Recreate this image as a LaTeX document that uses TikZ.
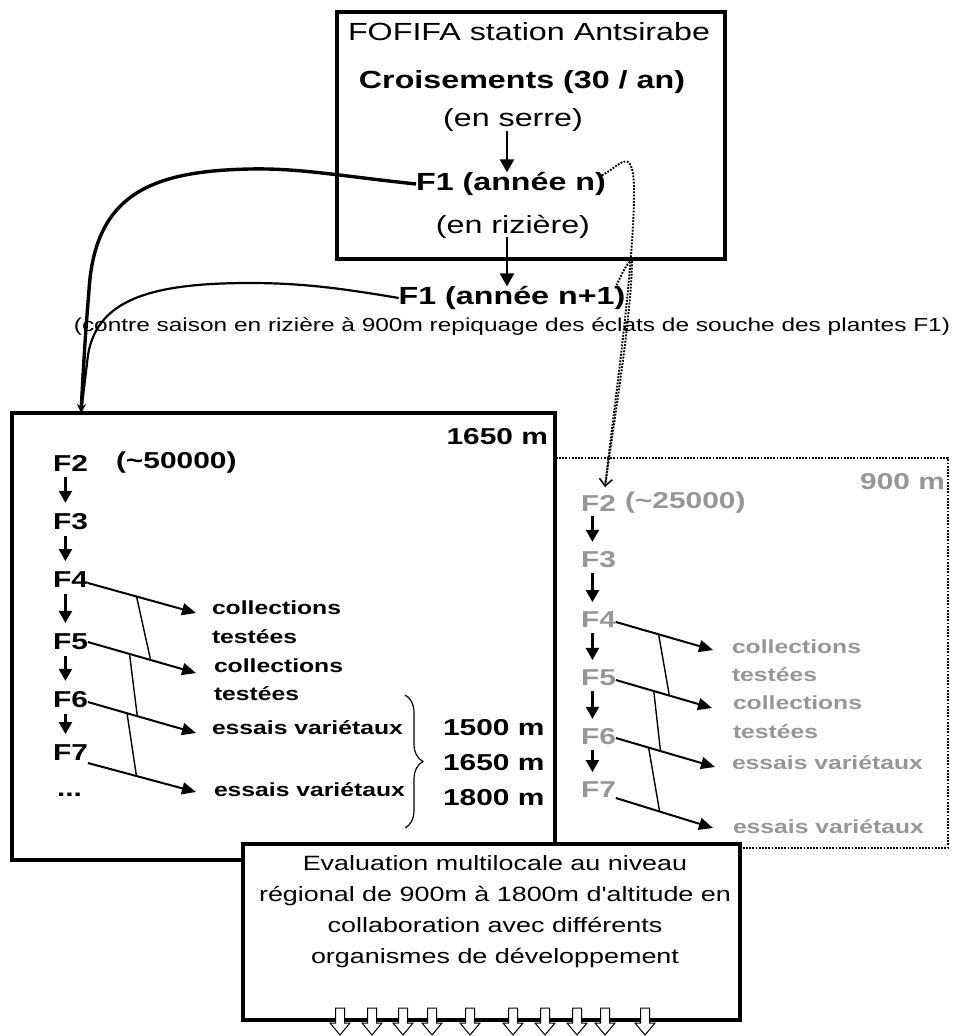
\documentclass[tikz,border=0pt]{standalone}
\usepackage{fontspec}
\setmainfont{Liberation Sans}
\usepackage{graphicx}
\usetikzlibrary{arrows.meta,decorations.pathreplacing}
\newcommand{\W}[1]{\scalebox{1.3}[1]{#1}}
\definecolor{gtxt}{RGB}{150,150,150}
\begin{document}
\begin{tikzpicture}[x=1pt,y=-1pt,
  every node/.style={inner sep=0pt, outer sep=0pt},
  txt/.style={font=\fontsize{24.8}{28}\selectfont},
  btxt/.style={font=\fontsize{24.8}{28}\selectfont\bfseries},
  smtxt/.style={font=\fontsize{18.8}{22}\selectfont},
  labtxt/.style={font=\fontsize{19}{22}\selectfont\bfseries, anchor=west},
  ftxt/.style={font=\fontsize{23}{27}\selectfont\bfseries, anchor=west},
  evtxt/.style={font=\fontsize{20.7}{31}\selectfont},
  gtx/.style={text=gtxt},
  bigarr/.style={line width=2.4pt, -{Triangle[length=13pt,width=14pt]}},
  farr/.style={line width=2.2pt, -{Triangle[length=12pt,width=13pt]}},
  darr/.style={line width=2pt, -{Triangle[length=14pt,width=12pt]}},
  zig/.style={line width=1.4pt},
  dotln/.style={line width=1.9pt, dash pattern=on 1.8pt off 1.4pt},
  boxst/.style={draw, line width=3.8pt, fill=white},
]
\useasboundingbox (0,0) rectangle (956,1036);

% dotted 900 m area (partly hidden)
\draw[dotln] (400,458) rectangle (948,848);

% boxes
\node[boxst, line width=4.2pt, fill=none, minimum width=388, minimum height=247] (top) at (531,135.5) {};
\node[boxst, minimum width=543, minimum height=447] (lbox) at (283.5,636.5) {};
\node[boxst, minimum width=497, minimum height=176] (evalb) at (491.5,932) {};

% top box texts
\node[txt] (fofifa) at (529,32) {\W{FOFIFA station Antsirabe}};
\node[btxt] (crois) at (522,82) {\W{Croisements (30 / an)}};
\node[txt] (serre) at (513,120) {\W{(en serre)}};
\node[btxt] (f1a) at (511,184) {\W{F1 (année n)}};
\node[txt] (rizi) at (513,227) {\W{(en rizière)}};
\node[btxt] (f1b) at (512,298) {\W{F1 (année n+1)}};
\node[smtxt] (contre) at (512,327) {\W{(contre saison en rizière à 900m repiquage des éclats de souche des plantes F1)}};

\draw[bigarr] ([xshift=-6pt,yshift=1pt]serre.south) -- ([xshift=-4pt]f1a.north);
\draw[bigarr] ([xshift=-6pt,yshift=2pt]rizi.south) -- ([xshift=-5pt]f1b.north);

% curves to the 1650 m box
\coordinate (entry) at (81,413);
\draw[line width=3.4pt, -{Stealth[length=9pt,width=9pt]}] (f1a.west) .. controls (340,176) and (300,168) .. (250,169) .. controls (150,171) and (95,195) .. (89,290) .. controls (85,340) .. (entry);
\draw[line width=2.2pt] (f1b.west) .. controls (340,288) and (300,283) .. (250,283) .. controls (150,283) and (97,300) .. (88,355) .. controls (85,380) .. (entry);

% left box content
\node[btxt, anchor=east, font=\fontsize{23}{27}\selectfont\bfseries] (alt) at (548,437) {\W{1650 m}};
\node[ftxt] (f2) at (53,463) {\W{F2}};
\node[ftxt] (n2) at (116,463) {\W{(\textasciitilde50000)}};
\node[ftxt] (f3) at (53,522) {\W{F3}};
\node[ftxt] (f4) at (53,580) {\W{F4}};
\node[ftxt] (f5) at (53,642) {\W{F5}};
\node[ftxt] (f6) at (53,700) {\W{F6}};
\node[ftxt] (f7) at (53,753) {\W{F7}};
\node[ftxt] (fd) at (57,795) {\W{...}};
\foreach \a/\b in {f2/f3,f3/f4,f4/f5,f5/f6,f6/f7}
  \draw[farr] ([shift={(-5,6)}]\a.south) -- ([shift={(-5,-11)}]\b.north);

\node[labtxt] (c1) at (212,608) {\W{collections}};
\node[labtxt] (t1) at (212,637) {\W{testées}};
\node[labtxt] (c2) at (214,666) {\W{collections}};
\node[labtxt] (t2) at (214,694) {\W{testées}};
\node[labtxt] (e1) at (212,728) {\W{essais variétaux}};
\node[labtxt] (e2) at (214,790) {\W{essais variétaux}};

\draw[darr] ([yshift=-3pt]f4.east) -- coordinate[pos=0.45](z4) ([shift={(-16,5)}]c1.west);
\draw[darr] ([yshift=0pt]f5.east) -- coordinate[pos=0.58](z5a) coordinate[pos=0.385](z5b) ([shift={(-18,7)}]c2.west);
\draw[darr] ([yshift=-2pt]f6.east) -- coordinate[pos=0.457](z6a) coordinate[pos=0.362](z6b) ([shift={(-16,5)}]e1.west);
\draw[darr] ([yshift=-10pt]f7.east) -- coordinate[pos=0.449](z7) ([shift={(-18,2)}]e2.west);
\draw[zig] (z4) -- (z5a);
\draw[zig] (z5b) -- (z6a);
\draw[zig] (z6b) -- (z7);

\draw[line width=1.2pt, decorate, decoration={brace, amplitude=18pt}] (405,695) -- (405,828);
\node[ftxt] (m1) at (443,728) {\W{1500 m}};
\node[ftxt] (m2) at (443,763) {\W{1650 m}};
\node[ftxt] (m3) at (443,798) {\W{1800 m}};

% 900 m content (grey)
\node[ftxt, gtx, anchor=east] (nine) at (945,482) {\W{900 m}};
\node[ftxt, gtx] (g2) at (581,503) {\W{F2}};
\node[ftxt, gtx] (gn2) at (625,503) {\W{(\textasciitilde25000)}};
\node[ftxt, gtx] (g3) at (581,560) {\W{F3}};
\node[ftxt, gtx] (g4) at (581,620) {\W{F4}};
\node[ftxt, gtx] (g5) at (581,678) {\W{F5}};
\node[ftxt, gtx] (g6) at (581,737) {\W{F6}};
\node[ftxt, gtx] (g7) at (581,790) {\W{F7}};
\foreach \a/\b in {g2/g3,g3/g4,g4/g5,g5/g6,g6/g7}
  \draw[farr] ([shift={(-6,5)}]\a.south) -- ([shift={(-6,-10)}]\b.north);

\node[labtxt, gtx] (gc1) at (732,647) {\W{collections}};
\node[labtxt, gtx] (gt1) at (732,675) {\W{testées}};
\node[labtxt, gtx] (gc2) at (733,703) {\W{collections}};
\node[labtxt, gtx] (gt2) at (733,732) {\W{testées}};
\node[labtxt, gtx] (ge1) at (732,763) {\W{essais variétaux}};
\node[labtxt, gtx] (ge2) at (733,827) {\W{essais variétaux}};

\draw[darr] ([yshift=-2pt]g4.east) -- coordinate[pos=0.44](gz4) ([shift={(-19,3)}]gc1.west);
\draw[darr] ([yshift=-2pt]g5.east) -- coordinate[pos=0.556](gz5a) coordinate[pos=0.394](gz5b) ([shift={(-21,5)}]gc2.west);
\draw[darr] ([yshift=-1pt]g6.east) -- coordinate[pos=0.45](gz6a) coordinate[pos=0.33](gz6b) ([shift={(-17,4)}]ge1.west);
\draw[darr] ([yshift=-8pt]g7.east) -- coordinate[pos=0.45](gz7) ([shift={(-20,1)}]ge2.west);
\draw[zig] (gz4) -- (gz5a);
\draw[zig] (gz5b) -- (gz6a);
\draw[zig] (gz6b) -- (gz7);

% dotted connectors to the 900 m F2
\coordinate (dtip) at (605,487);
\draw[dotln, -{Straight Barb[length=7pt,width=13pt,line width=1.5pt]}] ([xshift=-4pt,yshift=-3pt]f1a.north east) .. controls (620,166) and (632,145) .. (634,185) .. controls (635,260) and (615,400) .. (dtip);
\draw[dotln] ([xshift=-10pt,yshift=-2pt]f1b.north east) .. controls (622,272) and (630,258) .. (632,262) .. controls (631,320) and (614,420) .. (dtip);

% evaluation box text
\node[evtxt, align=center] (evtext) at (495,911.5) {\W{Evaluation multilocale au niveau}\\\W{régional de 900m à 1800m d\textquotesingle altitude en}\\\W{collaboration avec différents}\\\W{organismes de développement}};

% hollow output arrows
\foreach \c in {340,372,403,432,470,513,545,577,605,645}
  \draw[line width=1pt, fill=white] (\c-4.5,1008) -- (\c+4.5,1008) -- (\c+4.5,1023) -- (\c+10,1023) -- (\c,1035) -- (\c-10,1023) -- (\c-4.5,1023) -- cycle;
\end{tikzpicture}
\end{document}
